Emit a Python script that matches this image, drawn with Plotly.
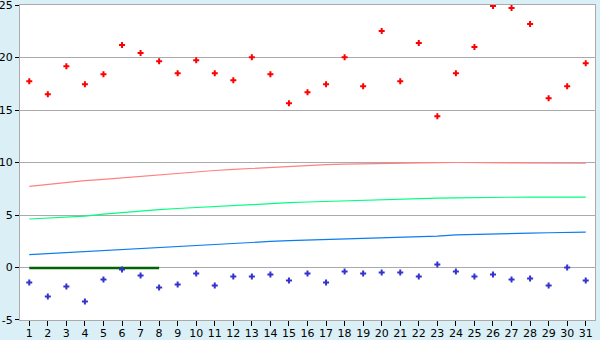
import plotly.graph_objects as go

days = list(range(1, 32))

red_points = [17.74, 16.5, 19.17, 17.45, 18.41, 21.18, 20.42, 19.65, 18.5, 19.75,
              18.5, 17.84, 20.03, 18.41, 15.64, 16.69, 17.45, 20.03, 17.26, 22.52,
              17.74, 21.37, 14.4, 18.5, 20.99, 24.9, 24.71, 23.18, 16.12, 17.26, 19.46]

blue_points = [-1.43, -2.76, -1.81, -3.24, -1.14, -0.19, -0.76, -1.9, -1.62, -0.57,
               -1.71, -0.86, -0.86, -0.67, -1.24, -0.57, -1.43, -0.38, -0.57, -0.48,
               -0.48, -0.86, 0.29, -0.38, -0.86, -0.67, -1.14, -1.05, -1.71, 0.0, -1.24]

red_line = [7.72, 7.92, 8.10, 8.27, 8.40, 8.55, 8.68, 8.82, 8.97, 9.11,
            9.24, 9.34, 9.44, 9.53, 9.63, 9.72, 9.79, 9.84, 9.88, 9.93,
            9.96, 9.98, 9.99, 10.0, 10.0, 10.0, 10.0, 10.0, 9.99, 9.97, 9.93]

green_line = [4.62, 4.70, 4.78, 4.90, 5.08, 5.25, 5.40, 5.52, 5.62, 5.72,
              5.83, 5.93, 6.02, 6.10, 6.17, 6.24, 6.30, 6.36, 6.42, 6.48,
              6.53, 6.57, 6.61, 6.64, 6.67, 6.69, 6.70, 6.71, 6.71, 6.71, 6.71]

blue_line = [1.23, 1.33, 1.43, 1.53, 1.63, 1.72, 1.82, 1.91, 2.01, 2.11,
             2.20, 2.29, 2.39, 2.48, 2.55, 2.60, 2.67, 2.74, 2.79, 2.84,
             2.89, 2.95, 2.99, 3.11, 3.17, 3.21, 3.25, 3.28, 3.31, 3.34, 3.36]

zero_days = [1, 2, 3, 4, 5, 6, 7, 8]
zero_line = [-0.06, -0.06, -0.06, -0.06, -0.06, -0.06, -0.06, -0.06]

y_ticks = [-5, 0, 5, 10, 15, 20, 25]
y_tick_labels = ["-5", "0", "5", "10", "15", "20", "25"]

fig = go.Figure()
fig.add_trace(go.Scatter(x=days, y=red_line, mode="lines",
                         line=dict(color="#FF8080", width=1.2)))
fig.add_trace(go.Scatter(x=days, y=green_line, mode="lines",
                         line=dict(color="#00FF80", width=1.2)))
fig.add_trace(go.Scatter(x=days, y=blue_line, mode="lines",
                         line=dict(color="#0A7DF0", width=1.2)))
fig.add_trace(go.Scatter(x=zero_days, y=zero_line, mode="lines",
                         line=dict(color="#006400", width=2.5)))
fig.add_trace(go.Scatter(x=days, y=red_points, mode="markers",
                         marker=dict(symbol="cross", size=5, color="#FF0000",
                                     line=dict(width=0))))
fig.add_trace(go.Scatter(x=days, y=blue_points, mode="markers",
                         marker=dict(symbol="cross", size=5, color="#3333CC",
                                     line=dict(width=0))))

axis_font = dict(family="DejaVu Sans", size=11, color="#000000")

fig.update_layout(
    width=600, height=340,
    margin=dict(l=20, r=5, t=5, b=20),
    paper_bgcolor="#DAF0F6",
    plot_bgcolor="#FFFFFF",
    showlegend=False,
    xaxis=dict(
        range=[0.5, 31.5], tickmode="array", tickvals=days,
        ticktext=[str(d) for d in days],
        showgrid=False, zeroline=False, automargin=False,
        showline=True, linecolor="#AAAAAA", linewidth=1, mirror=True,
        ticks="outside", ticklen=5, tickcolor="#000000", tickwidth=1,
        tickfont=axis_font, fixedrange=True, ticklabeloverflow="allow",
        ticklabelstandoff=-2,
    ),
    yaxis=dict(
        range=[-5.001, 25.001], tickmode="array", tickvals=y_ticks,
        ticktext=y_tick_labels,
        showgrid=True, gridcolor="#AAAAAA", gridwidth=1, zeroline=False,
        automargin=False,
        showline=True, linecolor="#AAAAAA", linewidth=1, mirror=True,
        ticks="outside", ticklen=4, tickcolor="#000000", tickwidth=1,
        tickfont=axis_font, fixedrange=True, ticklabeloverflow="allow",
    ),
)

fig.write_html("out.html")
